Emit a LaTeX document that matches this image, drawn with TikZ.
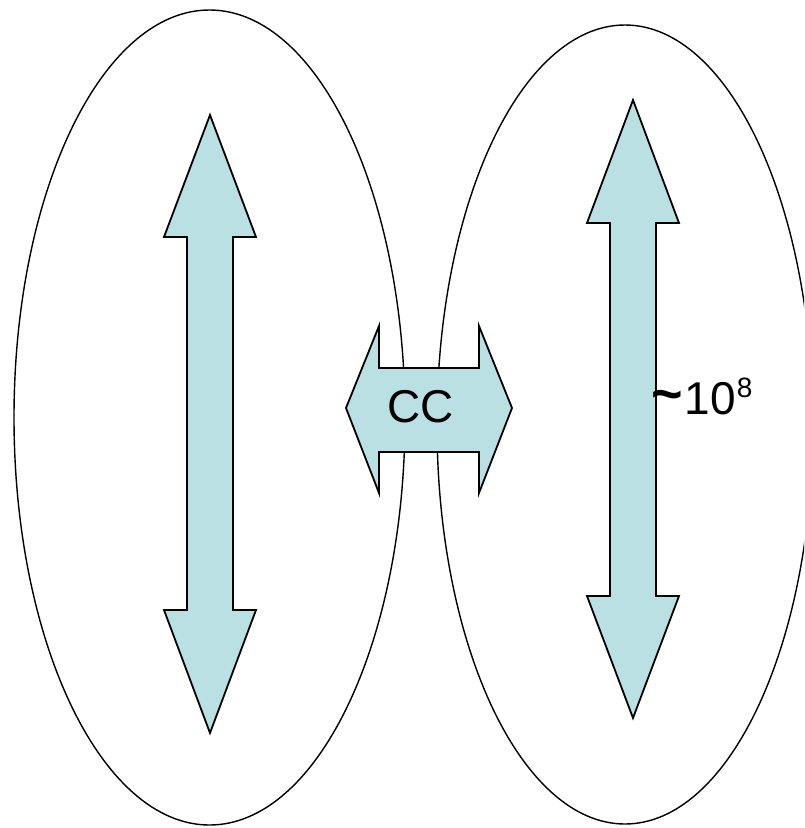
\documentclass[tikz,border=0pt]{standalone}
\usepackage{fontspec}
\setmainfont{Liberation Sans}
\definecolor{arrowfill}{HTML}{BBE0E3}
\tikzset{
  bubble/.style={draw=black, line width=1.4pt},
  fatarrow/.style={draw=black, fill=arrowfill, line width=1.8pt, line join=miter},
  bigtext/.style={font=\fontsize{46}{52}\selectfont, inner sep=0pt}
}
\begin{document}
\begin{tikzpicture}[x=1pt,y=-1pt]
\clip (0,0) rectangle (804,828);
\useasboundingbox (0,0) rectangle (804,828);
% ellipses
\draw[bubble] (209.5,417.5) ellipse [x radius=195.5, y radius=407.5];
\draw[bubble] (625,424.5) ellipse [x radius=188, y radius=399.5];
% left vertical double arrow
\draw[fatarrow] (210,115) -- (256,237) -- (233,237) -- (233,610) -- (256,610) -- (210,733)
  -- (164,610) -- (187,610) -- (187,237) -- (164,237) -- cycle;
% right vertical double arrow
\draw[fatarrow] (633,100) -- (679,223) -- (656,223) -- (656,596) -- (679,596) -- (633,718)
  -- (587,596) -- (610,596) -- (610,223) -- (587,223) -- cycle;
% horizontal double arrow
\draw[fatarrow] (346,408) -- (379,326) -- (379,368) -- (479,368) -- (479,326) -- (512,408)
  -- (479,493) -- (479,452) -- (379,452) -- (379,493) -- cycle;
\node[bigtext] (cc) at (421,407) {CC};
\node[bigtext, anchor=base west] (scale) at (651,414) {\raisebox{2pt}{\fontsize{54}{56}\selectfont\bfseries\textasciitilde}\kern2pt 10\kern1pt\raisebox{17pt}{\fontsize{28}{30}\selectfont 8}};
\end{tikzpicture}
\end{document}
